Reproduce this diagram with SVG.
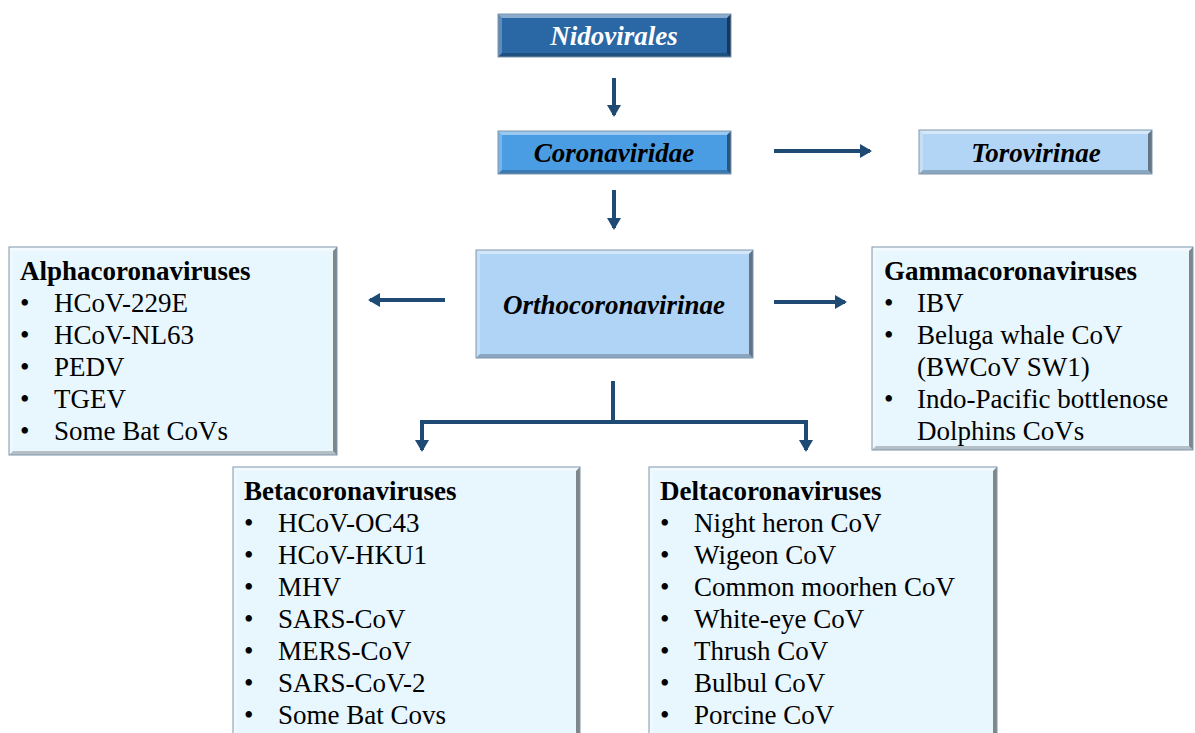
<svg xmlns="http://www.w3.org/2000/svg" width="1195" height="733" viewBox="0 0 1195 733">
<defs>
<style>
.t{font-family:"Liberation Serif","Times New Roman",serif;font-size:27px;fill:#000}
.h{font-weight:bold;font-style:italic;text-anchor:middle}
.b{font-weight:bold}
.w{fill:#fff}
.edge{stroke:#1f4a73;stroke-width:4;fill:none}
.hl{fill:#fff;fill-opacity:.45}
.hl2{fill:#fff;fill-opacity:.25}
.dk{fill:#000;fill-opacity:.45}
.dk2{fill:#000;fill-opacity:.22}
.bd{fill:none;stroke:#7f95ab;stroke-width:1}
</style>
<marker id="ah" markerUnits="userSpaceOnUse" markerWidth="14" markerHeight="14" refX="10" refY="7" orient="auto">
<path d="M0,0 L12,7 L0,14 Z" fill="#1f4a73"/>
</marker>
</defs>
<rect width="1195" height="733" fill="#fff"/>

<g id="connectors">
<line class="edge" x1="614" y1="78" x2="614" y2="115" marker-end="url(#ah)"/>
<line class="edge" x1="614" y1="190" x2="614" y2="228" marker-end="url(#ah)"/>
<line class="edge" x1="774" y1="151" x2="870" y2="151" marker-end="url(#ah)"/>
<line class="edge" x1="445" y1="300" x2="370" y2="300" marker-end="url(#ah)"/>
<line class="edge" x1="774" y1="302" x2="845" y2="302" marker-end="url(#ah)"/>
<line class="edge" x1="613" y1="381" x2="613" y2="422"/>
<path class="edge" d="M420,422 H808"/>
<line class="edge" x1="422" y1="420" x2="422" y2="450" marker-end="url(#ah)"/>
<line class="edge" x1="806" y1="420" x2="806" y2="450" marker-end="url(#ah)"/>
</g>

<g id="nidovirales">
<rect x="498" y="14" width="233" height="43" fill="#2a67a5"/>
<polygon class="hl" points="498,14 731,14 727,18 502,18"/>
<polygon class="hl2" points="498,14 502,18 502,53 498,57"/>
<polygon class="dk" points="731,14 731,57 727,53 727,18"/>
<polygon class="dk2" points="498,57 731,57 727,53 502,53"/>
<rect class="bd" x="498" y="14" width="233" height="43"/>
<text class="t h w" x="614" y="45">Nidovirales</text>
</g>

<g id="coronaviridae">
<rect x="498" y="131" width="233" height="43" fill="#4b9de3"/>
<polygon class="hl" points="498,131 731,131 727,135 502,135"/>
<polygon class="hl2" points="498,131 502,135 502,170 498,174"/>
<polygon class="dk" points="731,131 731,174 727,170 727,135"/>
<polygon class="dk2" points="498,174 731,174 727,170 502,170"/>
<rect class="bd" x="498" y="131" width="233" height="43"/>
<text class="t h" x="614" y="162">Coronaviridae</text>
</g>

<g id="torovirinae">
<rect x="919" y="130" width="233" height="44" fill="#b2d5f5"/>
<polygon class="hl" points="919,130 1152,130 1148,134 923,134"/>
<polygon class="hl2" points="919,130 923,134 923,170 919,174"/>
<polygon class="dk" points="1152,130 1152,174 1148,170 1148,134"/>
<polygon class="dk2" points="919,174 1152,174 1148,170 923,170"/>
<rect class="bd" x="919" y="130" width="233" height="44"/>
<text class="t h" x="1036" y="162">Torovirinae</text>
</g>

<g id="orthocoronavirinae">
<rect x="476" y="250" width="277" height="108" fill="#b0d4f5"/>
<polygon class="hl" points="476,250 753,250 749,254 480,254"/>
<polygon class="hl2" points="476,250 480,254 480,354 476,358"/>
<polygon class="dk" points="753,250 753,358 749,354 749,254"/>
<polygon class="dk2" points="476,358 753,358 749,354 480,354"/>
<rect class="bd" x="476" y="250" width="277" height="108"/>
<text class="t h" x="614" y="314">Orthocoronavirinae</text>
</g>

<g id="alpha">
<rect x="9" y="247" width="328" height="208" fill="#e8f6fe"/>
<polygon class="hl" points="9,247 337,247 333,251 13,251"/>
<polygon class="hl2" points="9,247 13,251 13,451 9,455"/>
<polygon class="dk" points="337,247 337,455 333,451 333,251"/>
<polygon class="dk2" points="9,455 337,455 333,451 13,451"/>
<rect class="bd" x="9" y="247" width="328" height="208"/>
<text class="t b" x="20" y="280">Alphacoronaviruses</text>
<text class="t" x="20" y="312">•</text><text class="t" x="54" y="312">HCoV-229E</text>
<text class="t" x="20" y="344">•</text><text class="t" x="54" y="344">HCoV-NL63</text>
<text class="t" x="20" y="376">•</text><text class="t" x="54" y="376">PEDV</text>
<text class="t" x="20" y="408">•</text><text class="t" x="54" y="408">TGEV</text>
<text class="t" x="20" y="440">•</text><text class="t" x="54" y="440">Some Bat CoVs</text>
</g>

<g id="gamma">
<rect x="872" y="247" width="321" height="203" fill="#e8f6fe"/>
<polygon class="hl" points="872,247 1193,247 1189,251 876,251"/>
<polygon class="hl2" points="872,247 876,251 876,446 872,450"/>
<polygon class="dk" points="1193,247 1193,450 1189,446 1189,251"/>
<polygon class="dk2" points="872,450 1193,450 1189,446 876,446"/>
<rect class="bd" x="872" y="247" width="321" height="203"/>
<text class="t b" x="884" y="280">Gammacoronaviruses</text>
<text class="t" x="884" y="312">•</text><text class="t" x="917" y="312">IBV</text>
<text class="t" x="884" y="344">•</text><text class="t" x="917" y="344">Beluga whale CoV</text>
<text class="t" x="917" y="376">(BWCoV SW1)</text>
<text class="t" x="884" y="408">•</text><text class="t" x="917" y="408">Indo-Pacific bottlenose</text>
<text class="t" x="917" y="440">Dolphins CoVs</text>
</g>

<g id="beta">
<rect x="233" y="467" width="347" height="275" fill="#e8f6fe"/>
<polygon class="hl" points="233,467 580,467 576,471 237,471"/>
<polygon class="hl2" points="233,467 237,471 237,742 233,742"/>
<polygon class="dk" points="580,467 580,742 576,742 576,471"/>
<rect class="bd" x="233" y="467" width="347" height="275"/>
<text class="t b" x="244" y="500">Betacoronaviruses</text>
<text class="t" x="244" y="532">•</text><text class="t" x="278" y="532">HCoV-OC43</text>
<text class="t" x="244" y="564">•</text><text class="t" x="278" y="564">HCoV-HKU1</text>
<text class="t" x="244" y="596">•</text><text class="t" x="278" y="596">MHV</text>
<text class="t" x="244" y="628">•</text><text class="t" x="278" y="628">SARS-CoV</text>
<text class="t" x="244" y="660">•</text><text class="t" x="278" y="660">MERS-CoV</text>
<text class="t" x="244" y="692">•</text><text class="t" x="278" y="692">SARS-CoV-2</text>
<text class="t" x="244" y="724">•</text><text class="t" x="278" y="724">Some Bat Covs</text>
</g>

<g id="delta">
<rect x="649" y="467" width="348" height="275" fill="#e8f6fe"/>
<polygon class="hl" points="649,467 997,467 993,471 653,471"/>
<polygon class="hl2" points="649,467 653,471 653,742 649,742"/>
<polygon class="dk" points="997,467 997,742 993,742 993,471"/>
<rect class="bd" x="649" y="467" width="348" height="275"/>
<text class="t b" x="660" y="500">Deltacoronaviruses</text>
<text class="t" x="660" y="532">•</text><text class="t" x="694" y="532">Night heron CoV</text>
<text class="t" x="660" y="564">•</text><text class="t" x="694" y="564">Wigeon CoV</text>
<text class="t" x="660" y="596">•</text><text class="t" x="694" y="596">Common moorhen CoV</text>
<text class="t" x="660" y="628">•</text><text class="t" x="694" y="628">White-eye CoV</text>
<text class="t" x="660" y="660">•</text><text class="t" x="694" y="660">Thrush CoV</text>
<text class="t" x="660" y="692">•</text><text class="t" x="694" y="692">Bulbul CoV</text>
<text class="t" x="660" y="724">•</text><text class="t" x="694" y="724">Porcine CoV</text>
</g>
</svg>
